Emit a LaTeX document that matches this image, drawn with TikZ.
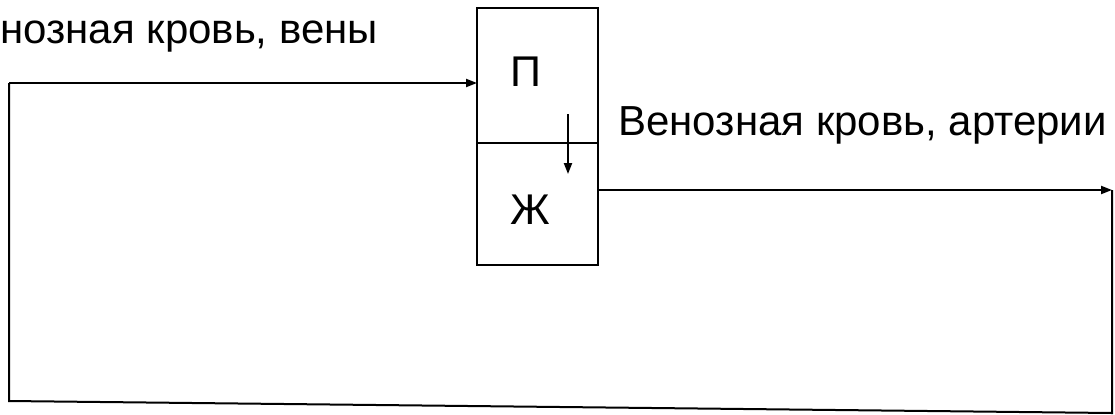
\documentclass[tikz,border=0pt]{standalone}
\usepackage{fontspec}
\setmainfont{Liberation Sans}
\usetikzlibrary{positioning, arrows.meta}

\begin{document}
\begin{tikzpicture}[
        x=0.5pt, y=-0.5pt,
        cell/.style={
                draw=black,
                line width=1pt,
                minimum width=60.5pt,
                inner sep=0pt,
                outer sep=0pt
            },
        caption/.style={font=\fontsize{21}{25}\selectfont, inner sep=0pt},
        letter/.style={font=\fontsize{21.5}{25}\selectfont, inner sep=0pt},
        flow/.style={line width=1pt},
        >={Triangle[length=5.5pt,width=4pt]}
    ]
    \useasboundingbox (0,0) rectangle (1115,414);

    \node[cell,minimum height=67.5pt,label={[letter,xshift=-5.75pt,yshift=1.75pt]center:П}] (atrium) at (537.5,75.5) {};
    \node[cell,minimum height=61pt,label={[letter,xshift=-3.75pt,yshift=-3pt]center:Ж}] (ventricle) [below=0pt of atrium] {};

    \node[caption,anchor=base west] (veinlbl) at (0,43) {нозная кровь, вены};
    \node[caption,anchor=base west] (arterylbl) at (618,135) {Венозная кровь, артерии};

    \coordinate (lt) at (9,83);
    \coordinate (lb) at (9,401);
    \coordinate (rb) at (1112,413);
    \coordinate (rt) at (1112,190);
    \coordinate (innertop) at (568,114);
    \coordinate (innerend) at (568,174);

    \draw[flow,->] (lt) -- (atrium.west |- lt);
    \draw[flow] (lt) -- (lb) -- (rb) -- (rt);
    \draw[flow,->] (ventricle.east |- rt) -- (rt);
    \draw[flow,->] (innertop) -- (innerend);
\end{tikzpicture}
\end{document}
